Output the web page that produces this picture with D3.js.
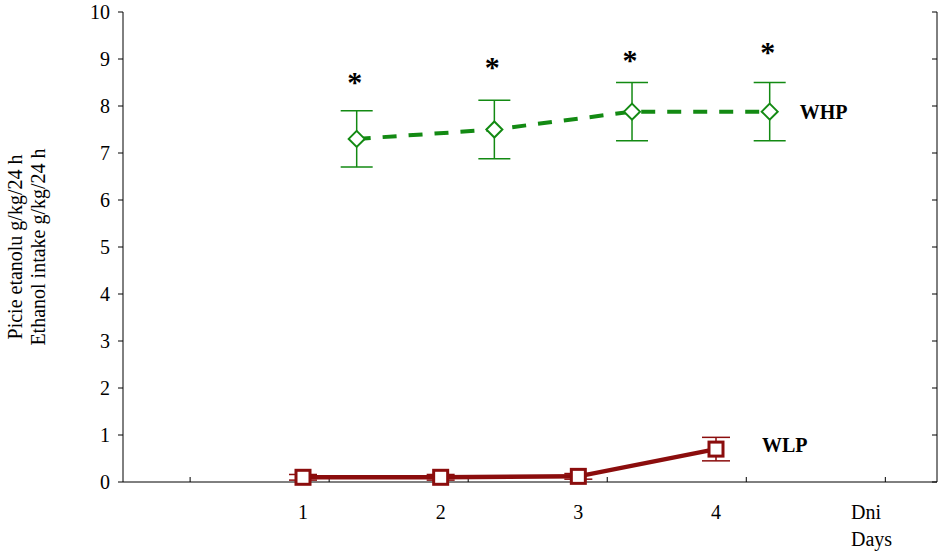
<!DOCTYPE html><html><head><meta charset="utf-8"><script src="https://cdn.jsdelivr.net/npm/d3@7"></script>
<style>body{margin:0;background:#fff}text{font-family:"Liberation Serif","Times New Roman",serif}</style></head><body><svg id="c" width="951" height="552"></svg><script>
const days=[1,2,3,4];
const dayLabels=["1","2","3","4"];
const whp=[7.3,7.5,7.88,7.88];
const whpErr=[0.6,0.62,0.62,0.62];
const whpStar=[8.66,8.98,9.13,9.3];
const wlp=[0.1,0.1,0.12,0.7];
const wlpErr=[0.06,0.06,0.06,0.25];
const xTicks=[0.18,1.19,2.2,3.21,4.22,5.23];
const yTicks=[0,1,2,3,4,5,6,7,8,9,10];
const whpShift=0.39;
const svg=d3.select("#c");
const x=d3.scaleLinear().domain([1,4]).range([303,716]);
const y=d3.scaleLinear().domain([0,10]).range([482,12]);
const L=123,R=937;
svg.append("line").attr("x1",L).attr("x2",L).attr("y1",y(10)).attr("y2",y(0)).attr("stroke","#000");
svg.append("line").attr("x1",R).attr("x2",R).attr("y1",y(10)).attr("y2",y(0)).attr("stroke","#000");
svg.append("line").attr("x1",L).attr("x2",R).attr("y1",y(0)).attr("y2",y(0)).attr("stroke","#000");
yTicks.forEach(t=>{
 svg.append("line").attr("x1",L-5).attr("x2",L).attr("y1",y(t)).attr("y2",y(t)).attr("stroke","#000");
 svg.append("line").attr("x1",R-5).attr("x2",R).attr("y1",y(t)).attr("y2",y(t)).attr("stroke","#000");
 svg.append("text").attr("x",L-13).attr("y",y(t)+7).attr("text-anchor","end").attr("font-size",20).text(t);
});
xTicks.forEach(t=>svg.append("line").attr("x1",x(t)).attr("x2",x(t)).attr("y1",y(0)).attr("y2",y(0)-5).attr("stroke","#000"));
days.forEach((d,i)=>svg.append("text").attr("x",x(d)).attr("y",519).attr("text-anchor","middle").attr("font-size",20).text(dayLabels[i]));
svg.append("text").attr("x",851).attr("y",519).attr("font-size",20).text("Dni");
svg.append("text").attr("x",851).attr("y",546).attr("font-size",20).text("Days");
const yl=svg.append("text").attr("transform","translate(0,247) rotate(-90)").attr("text-anchor","middle").attr("font-size",20);
yl.append("tspan").attr("x",0).attr("y",22).text("Picie etanolu g/kg/24 h");
yl.append("tspan").attr("x",0).attr("y",45).text("Ethanol intake g/kg/24 h");
// WHP
const G="#138a13",gx=i=>x(days[i]+whpShift);
svg.append("path").datum(whp).attr("fill","none").attr("stroke",G).attr("stroke-width",4).attr("stroke-dasharray","14,12")
 .attr("d",d3.line().x((d,i)=>gx(i)).y(d=>y(d)));
whp.forEach((v,i)=>{
 const cx=gx(i),e=whpErr[i];
 svg.append("line").attr("x1",cx).attr("x2",cx).attr("y1",y(v-e)).attr("y2",y(v+e)).attr("stroke",G).attr("stroke-width",1.5);
 [v-e,v+e].forEach(w=>svg.append("line").attr("x1",cx-16).attr("x2",cx+16).attr("y1",y(w)).attr("y2",y(w)).attr("stroke",G).attr("stroke-width",1.5));
 svg.append("path").attr("d",`M${cx},${y(v)-8}L${cx+8},${y(v)}L${cx},${y(v)+8}L${cx-8},${y(v)}Z`).attr("fill","#fff").attr("stroke",G).attr("stroke-width",2);
 svg.append("text").attr("x",cx-2).attr("y",y(whpStar[i])+17).attr("text-anchor","middle").attr("font-size",30).attr("font-weight","bold").text("*");
});
svg.append("text").attr("x",gx(3)+30).attr("y",y(whp[3])+7).attr("font-size",20).attr("font-weight","bold").text("WHP");
// WLP
const Rc="#8b0d0d";
svg.append("path").datum(wlp).attr("fill","none").attr("stroke",Rc).attr("stroke-width",4.5)
 .attr("d",d3.line().x((d,i)=>x(days[i])).y(d=>y(d)));
wlp.forEach((v,i)=>{
 const cx=x(days[i]),e=wlpErr[i];
 svg.append("line").attr("x1",cx).attr("x2",cx).attr("y1",y(v-e)).attr("y2",y(v+e)).attr("stroke",Rc).attr("stroke-width",1.5);
 [v-e,v+e].forEach(w=>svg.append("line").attr("x1",cx-14).attr("x2",cx+14).attr("y1",y(w)).attr("y2",y(w)).attr("stroke",Rc).attr("stroke-width",1.5));
 svg.append("rect").attr("x",cx-7).attr("y",y(v)-7).attr("width",14).attr("height",14).attr("fill","#fff").attr("stroke",Rc).attr("stroke-width",3);
});
svg.append("text").attr("x",x(4)+46).attr("y",y(wlp[3])+3).attr("font-size",20).attr("font-weight","bold").text("WLP");
</script></body></html>
